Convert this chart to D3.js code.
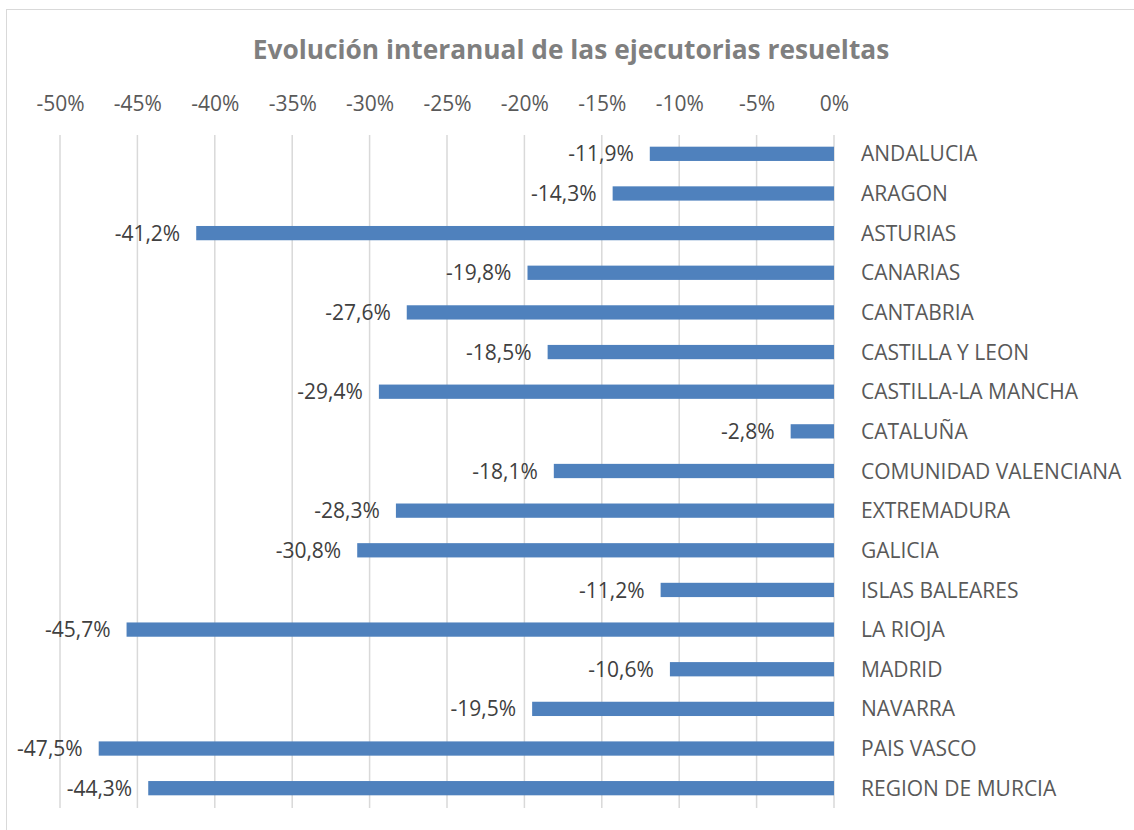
<!DOCTYPE html>
<html>
<head>
<meta charset="utf-8">
<script src="https://cdn.jsdelivr.net/npm/d3@7"></script>
<style>
  body { margin: 0; background: #fff; }
  text { font-family: "Open Sans", "Liberation Sans", sans-serif; }
</style>
</head>
<body>
<svg id="chart" width="1134" height="830"></svg>
<script>
var regions = [ "ANDALUCIA", "ARAGON", "ASTURIAS", "CANARIAS", "CANTABRIA",
    "CASTILLA Y LEON", "CASTILLA-LA MANCHA", "CATALUÑA", "COMUNIDAD VALENCIANA",
    "EXTREMADURA", "GALICIA", "ISLAS BALEARES", "LA RIOJA", "MADRID",
    "NAVARRA", "PAIS VASCO", "REGION DE MURCIA" ];
var changes = [ -11.9, -14.3, -41.2, -19.8, -27.6, -18.5, -29.4, -2.8, -18.1,
    -28.3, -30.8, -11.2, -45.7, -10.6, -19.5, -47.5, -44.3 ];
var tickValues = [ -50, -45, -40, -35, -30, -25, -20, -15, -10, -5, 0 ];
var title = "Evolución interanual de las ejecutorias resueltas";

window.addEventListener( "load", makeChart );
function makeChart() {
    var svg = d3.select( "#chart" );
    var es = d3.formatLocale( { decimal: ",", thousands: ".", grouping: [3],
                                currency: ["", "€"], minus: "-" } );
    var fmtVal = v => es.format( ".1f" )( v ) + "%";

    var scX = d3.scaleLinear().domain( [-50, 0] ).range( [60, 834] );
    var scY = d3.scaleBand().domain( regions ).range( [134, 808] )
        .paddingInner( 0.64 ).paddingOuter( 0.32 );

    // chart frame
    svg.append( "rect" ).attr( "x", 6.5 ).attr( "y", 9.5 )
        .attr( "width", 1140 ).attr( "height", 840 )
        .attr( "fill", "none" ).attr( "stroke", "#d9d9d9" );

    svg.append( "text" ).text( title )
        .attr( "x", 571 ).attr( "y", 59 ).attr( "text-anchor", "middle" )
        .attr( "font-size", 26.3 ).attr( "font-weight", "bold" ).attr( "fill", "#7f7f7f" );

    // gridlines
    svg.append( "g" ).selectAll( "line" ).data( tickValues ).enter().append( "line" )
        .attr( "x1", d => scX(d) ).attr( "x2", d => scX(d) )
        .attr( "y1", 135 ).attr( "y2", 808 )
        .attr( "stroke", "#d9d9d9" ).attr( "stroke-width", 1.5 );

    // top axis labels
    var ax = svg.append( "g" ).attr( "transform", "translate(0,111)" )
        .call( d3.axisTop( scX ).tickValues( tickValues ).tickSize( 0 ).tickPadding( 0 )
               .tickFormat( d => d + "%" ) );
    ax.select( ".domain" ).remove();
    ax.selectAll( "text" ).attr( "font-size", 21 ).attr( "fill", "#595959" )
        .attr( "font-family", "'Open Sans', sans-serif" );

    // bars
    svg.append( "g" ).selectAll( "rect" ).data( changes ).enter().append( "rect" )
        .attr( "x", d => scX(d) ).attr( "width", d => scX(0) - scX(d) )
        .attr( "y", (d, i) => scY( regions[i] ) ).attr( "height", scY.bandwidth() )
        .attr( "fill", "#4f81bd" );

    // data labels
    svg.append( "g" ).selectAll( "text" ).data( changes ).enter().append( "text" )
        .text( fmtVal )
        .attr( "x", d => scX(d) - 16 )
        .attr( "y", (d, i) => scY( regions[i] ) + scY.bandwidth() / 2 )
        .attr( "dy", "0.36em" ).attr( "text-anchor", "end" )
        .attr( "font-size", 21 ).attr( "fill", "#404040" );

    // category labels
    svg.append( "g" ).selectAll( "text" ).data( regions ).enter().append( "text" )
        .text( d => d )
        .attr( "x", 861 )
        .attr( "y", d => scY( d ) + scY.bandwidth() / 2 )
        .attr( "dy", "0.36em" )
        .attr( "font-size", 21 ).attr( "fill", "#595959" );
}
</script>
</body>
</html>
